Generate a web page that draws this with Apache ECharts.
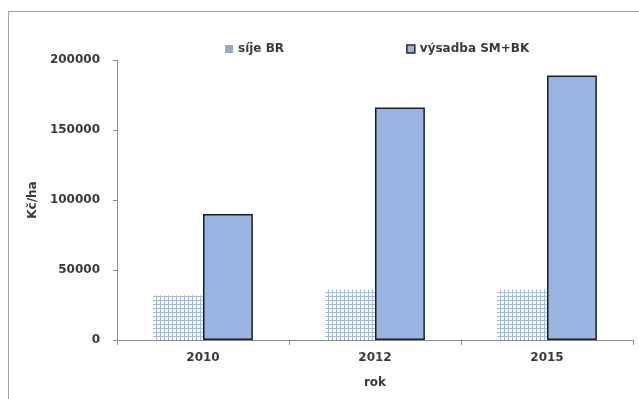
<!DOCTYPE html>
<html>
<head>
<meta charset="utf-8">
<script src="https://cdn.jsdelivr.net/npm/echarts@6/dist/echarts.min.js"></script>
<style>
  html, body { margin: 0; padding: 0; background: #fff; }
  #frame { position: absolute; left: 8px; top: 11px; width: 700px; height: 500px; border: 1px solid #a59f9f; box-sizing: border-box; }
  #chart { position: absolute; left: 0; top: 0; width: 639px; height: 399px; }
</style>
</head>
<body>
<div id="frame"></div>
<div id="chart"></div>
<script>
// Costs per hectare by year
const years = ['2010', '2012', '2015'];
const sijeBR = [32000, 36000, 36000];
const vysadbaSMBK = [90000, 166000, 189000];
const yTicks = [0, 50000, 100000, 150000, 200000];

// small grid pattern for the sown series
function gridPattern() {
  const c = document.createElement('canvas');
  c.width = 4; c.height = 4;
  const g = c.getContext('2d');
  g.fillStyle = '#ffffff';
  g.fillRect(0, 0, 4, 4);
  g.fillStyle = '#a3b8e2';
  g.fillRect(0, 0, 4, 1);
  g.fillRect(0, 0, 1, 4);
  return c;
}

const textColor = '#3a3a3a';
const font = 'DejaVu Sans';

const chart = echarts.init(document.getElementById('chart'), null, { renderer: 'canvas' });
chart.setOption({
  animation: false,
  backgroundColor: 'transparent',
  textStyle: { fontFamily: font },
  legend: {
    left: 220,
    top: 38,
    itemWidth: 8,
    itemHeight: 8,
    itemGap: 122,
    icon: 'rect',
    textStyle: { fontFamily: font, fontWeight: 'bold', fontSize: 12, color: textColor },
    data: [
      { name: 'síje BR', itemStyle: { color: '#9aa8c8', borderWidth: 0 } },
      { name: 'výsadba SM+BK', itemStyle: { color: '#98b4e0', borderColor: '#2a2a2a', borderWidth: 1.5 } }
    ]
  },
  grid: { left: 117, right: 6, top: 60, bottom: 59 },
  xAxis: {
    type: 'category',
    data: years,
    name: 'rok',
    nameLocation: 'middle',
    nameGap: 37,
    nameTextStyle: { fontFamily: font, fontWeight: 'bold', fontSize: 12, color: textColor },
    axisLine: { lineStyle: { color: '#8c8c8c', width: 1 } },
    axisTick: { show: true, length: 5, lineStyle: { color: '#8c8c8c' } },
    axisLabel: { fontFamily: font, fontWeight: 'bold', fontSize: 12, color: textColor, margin: 12 }
  },
  yAxis: {
    type: 'value',
    min: yTicks[0],
    max: yTicks[yTicks.length - 1],
    interval: yTicks[1] - yTicks[0],
    name: 'Kč/ha',
    nameLocation: 'middle',
    nameGap: 72,
    nameRotate: 90,
    nameTextStyle: { fontFamily: font, fontWeight: 'bold', fontSize: 12, color: textColor },
    axisLine: { show: true, lineStyle: { color: '#8c8c8c', width: 1 } },
    axisTick: { show: true, length: 4, lineStyle: { color: '#8c8c8c' } },
    splitLine: { show: false },
    axisLabel: {
      fontFamily: font, fontWeight: 'bold', fontSize: 12, color: textColor, margin: 17,
      formatter: v => String(v)
    }
  },
  series: [
    {
      name: 'síje BR',
      type: 'bar',
      data: sijeBR,
      barGap: '0%',
      barCategoryGap: '42%',
      itemStyle: { color: { image: gridPattern(), repeat: 'repeat' }, borderWidth: 0 }
    },
    {
      name: 'výsadba SM+BK',
      type: 'bar',
      data: vysadbaSMBK,
      barGap: '0%',
      barCategoryGap: '42%',
      itemStyle: { color: '#98b4e0', borderColor: '#1e1e1e', borderWidth: 1.5 }
    }
  ]
});
</script>
</body>
</html>
